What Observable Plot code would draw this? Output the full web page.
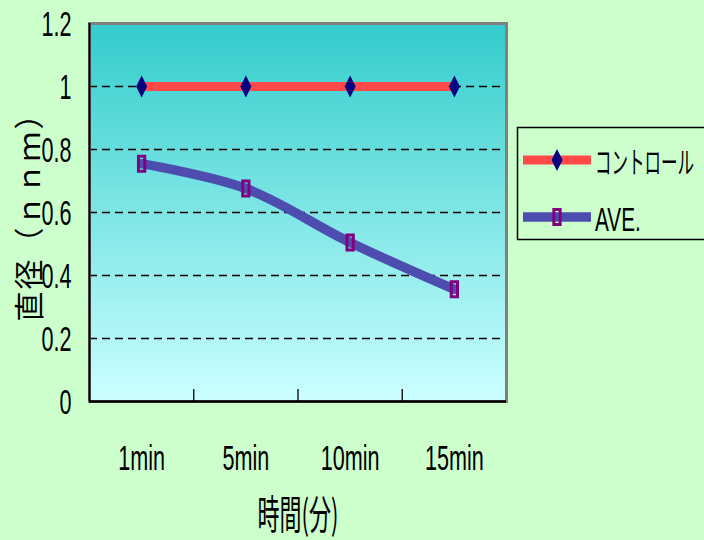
<!DOCTYPE html>
<html>
<head>
<meta charset="utf-8">
<script src="https://cdn.jsdelivr.net/npm/d3@7"></script>
<script src="https://cdn.jsdelivr.net/npm/@observablehq/plot@0.6"></script>
<style>
  html, body { margin: 0; padding: 0; background: #ccffcc; }
  #chart { position: relative; width: 704px; height: 540px; overflow: hidden; background: #ccffcc; }
  #chart svg.overlay { position: absolute; left: 0; top: 0; pointer-events: none; }
</style>
</head>
<body>
<div id="chart"></div>
<script>
// Measurements at each time point
const categories = ["1min", "5min", "10min", "15min"];
const controlValues = [1, 1, 1, 1];
const aveValues = [0.755, 0.676, 0.505, 0.356];
const seriesNames = ["コントロール", "AVE."];
const yTicks = [0, 0.2, 0.4, 0.6, 0.8, 1, 1.2];
const xTitle = "時間(分)";
const yTitle = "直径（ｎｎｍ）";

const LATIN = "'Liberation Sans', Arial, sans-serif";
const CJK = "'Noto Sans CJK JP', 'Noto Sans CJK SC', sans-serif";

// Tall, narrow marker shapes (r = half height)
const tallDiamond = {
  draw(ctx, size) {
    const r = Math.sqrt(size / Math.PI), w = r * 0.5;
    ctx.moveTo(0, -r); ctx.lineTo(w, 0); ctx.lineTo(0, r); ctx.lineTo(-w, 0); ctx.closePath();
  }
};
const tallRect = {
  draw(ctx, size) {
    const r = Math.sqrt(size / Math.PI), w = r * 0.42;
    ctx.rect(-w, -r, 2 * w, 2 * r);
  }
};

const rows = categories.map((c, i) => ({
  pos: i + 0.5, cat: c, control: controlValues[i], ave: aveValues[i]
}));

const plot = Plot.plot({
  width: 704,
  height: 540,
  marginLeft: 89,
  marginRight: 198,
  marginTop: 23,
  marginBottom: 139,
  style: { background: "transparent", fontFamily: LATIN, color: "#000" },
  x: { domain: [0, categories.length], axis: null, label: null },
  y: { domain: [0, 1.2], axis: null, label: null },
  marks: [
    Plot.frame({ fill: "url(#plotBg)", stroke: null }),
    Plot.gridY(yTicks.filter(v => v > 0 && v < 1.2), {
      stroke: "#000", strokeOpacity: 1, strokeWidth: 1.3, strokeDasharray: "8,5"
    }),
    Plot.frame({ stroke: "#808080", strokeWidth: 3 }),
    Plot.ruleX([0], { stroke: "#000", strokeWidth: 2 }),
    Plot.ruleY([0], { stroke: "#000", strokeWidth: 2.5 }),
    // tick marks between categories, pointing inward from the bottom edge
    Plot.ruleX(d3.range(1, categories.length), { insetTop: 366, stroke: "#000", strokeWidth: 1.3 }),
    Plot.axisY(yTicks, {
      tickSize: 0, tickPadding: 18, dy: 12, fontSize: 36, label: null,
      tickFormat: d => String(+d.toFixed(1))
    }),
    Plot.axisX(rows.map(d => d.pos), {
      tickSize: 0, tickPadding: 68, fontSize: 36, label: null,
      tickFormat: v => categories[Math.floor(v)]
    }),
    Plot.lineY(rows, { x: "pos", y: "control", stroke: "#ff4848", strokeWidth: 9 }),
    Plot.lineY(rows, { x: "pos", y: "ave", stroke: "#4d4db0", strokeWidth: 9.5, curve: "catmull-rom" }),
    Plot.dot(rows, { x: "pos", y: "control", symbol: tallDiamond, r: 11, fill: "#000080", stroke: null }),
    Plot.dot(rows, { x: "pos", y: "ave", symbol: tallRect, r: 7.5, fill: "none", stroke: "#800080", strokeWidth: 3 }),
    Plot.text([xTitle], {
      frameAnchor: "bottom", textAnchor: "middle", dy: 127, fontSize: 40, fontFamily: CJK, fill: "#000"
    }),
    Plot.text([yTitle], {
      frameAnchor: "left", textAnchor: "middle", rotate: -90, dx: -59, dy: -3,
      fontSize: 30, fontFamily: CJK, fill: "#000"
    })
  ]
});

// Vertical gradient for the plot area
const svg = d3.select(plot);
const grad = svg.insert("defs", ":first-child").append("linearGradient")
  .attr("id", "plotBg").attr("x1", 0).attr("y1", 0).attr("x2", 0).attr("y2", 1);
grad.append("stop").attr("offset", "0%").attr("stop-color", "#33cccc");
grad.append("stop").attr("offset", "100%").attr("stop-color", "#ccffff");

// Condensed look for tick labels and the time title
function condense(textEl, sx) {
  const x = +textEl.getAttribute("x") || 0;
  const y = +textEl.getAttribute("y") || 0;
  const t = textEl.getAttribute("transform") || "";
  textEl.removeAttribute("x");
  textEl.removeAttribute("y");
  textEl.setAttribute("transform", `${t} translate(${x},${y}) scale(${sx},1)`);
}
svg.selectAll('g[aria-label$="tick label"] text').each(function () { condense(this, 0.6); });
svg.selectAll("text").filter(function () { return this.textContent === xTitle; })
  .each(function () { condense(this, 0.55); });
svg.selectAll("text").filter(function () { return this.textContent === yTitle; })
  .style("letter-spacing", "2px");

const chart = document.getElementById("chart");
chart.appendChild(plot);

// Legend
const leg = d3.select(chart).append("svg")
  .attr("class", "overlay").attr("width", 704).attr("height", 540);
leg.append("rect")
  .attr("x", 517.5).attr("y", 127.5).attr("width", 200).attr("height", 112)
  .attr("fill", "#ccffcc").attr("stroke", "#000").attr("stroke-width", 1.5);

const symbolPath = (sym, r) => { const p = d3.path(); sym.draw(p, r * r * Math.PI); return p.toString(); };
const legendItems = [
  { name: seriesNames[0], y: 160, line: "#ff4848", lw: 9, sym: tallDiamond, r: 11, fill: "#000080", stroke: "none", sw: 0,
    font: CJK, size: 30, sx: 0.55, base: 173 },
  { name: seriesNames[1], y: 217, line: "#4d4db0", lw: 9.5, sym: tallRect, r: 7.5, fill: "none", stroke: "#800080", sw: 3,
    font: LATIN, size: 33, sx: 0.63, base: 231 }
];
for (const it of legendItems) {
  leg.append("line").attr("x1", 523).attr("x2", 591).attr("y1", it.y).attr("y2", it.y)
    .attr("stroke", it.line).attr("stroke-width", it.lw);
  leg.append("path").attr("d", symbolPath(it.sym, it.r))
    .attr("transform", `translate(557,${it.y})`)
    .attr("fill", it.fill).attr("stroke", it.stroke).attr("stroke-width", it.sw);
  leg.append("text").text(it.name)
    .attr("transform", `translate(595,${it.base}) scale(${it.sx},1)`)
    .attr("font-family", it.font).attr("font-size", it.size).attr("fill", "#000");
}
</script>
</body>
</html>
